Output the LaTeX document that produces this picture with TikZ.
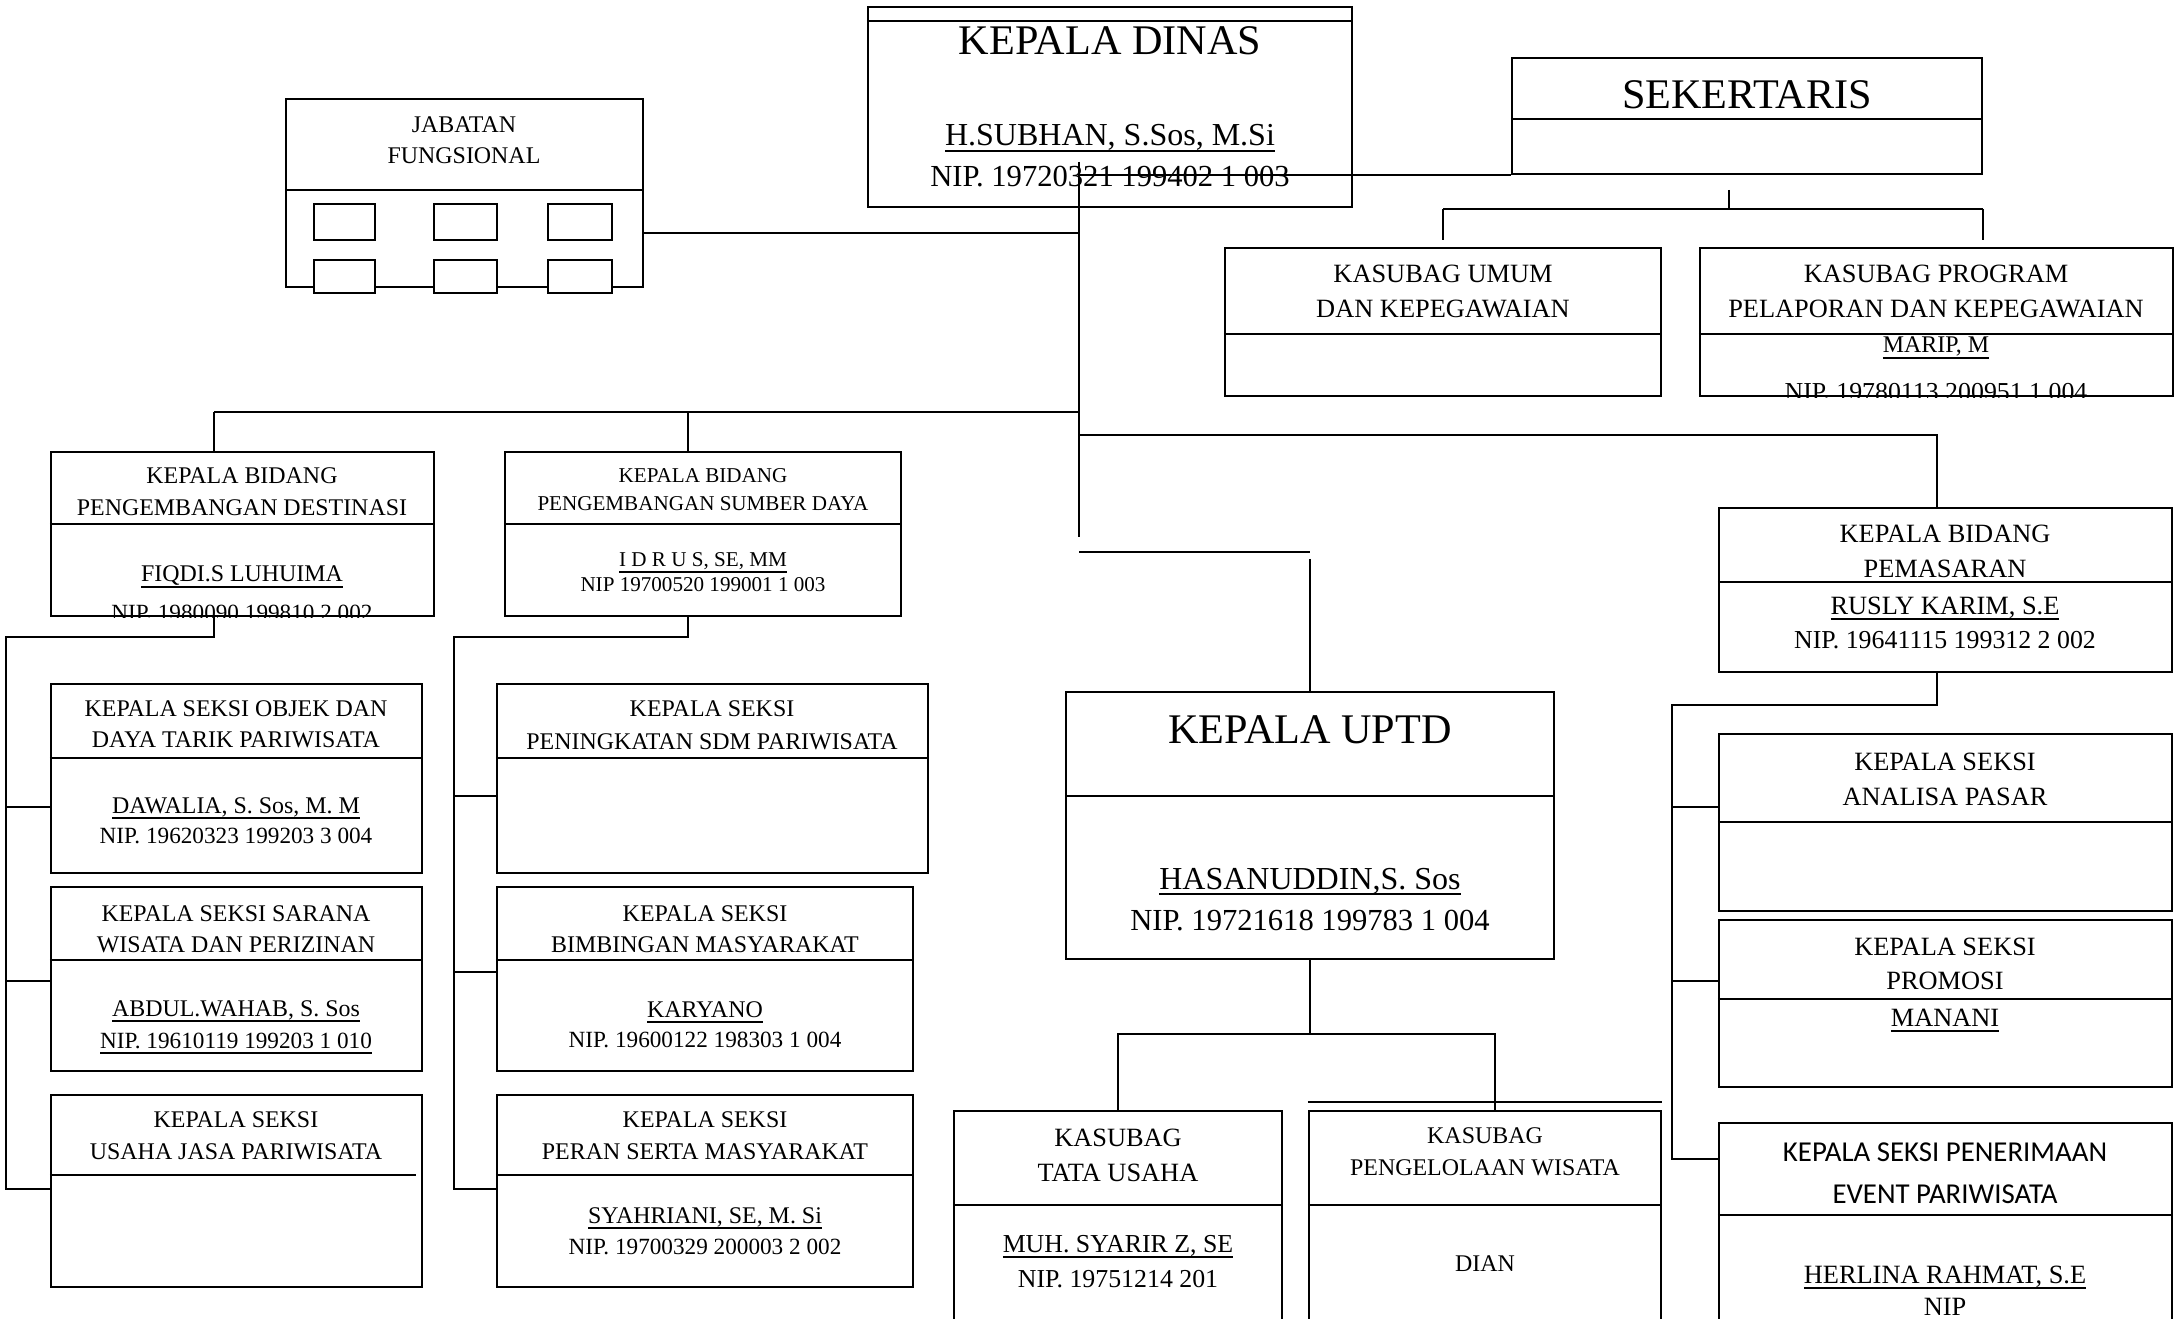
\documentclass[tikz,border=0pt]{standalone}
\usepackage{fontspec}
\setmainfont{Liberation Serif}
\newfontfamily\calibrifont{Carlito}
\usepackage{tikz}
\usetikzlibrary{positioning,fit,calc}
\newcommand{\garisbawah}[1]{\underline{\smash{#1}}}

\begin{document}
\begin{tikzpicture}[x=0.01cm,y=-0.01cm,
  kotak/.style={draw,line width=0.6pt,inner sep=0pt},
  garis/.style={line width=0.6pt},
  tipis/.style={line width=0.4pt},
  tx/.style={anchor=base,inner sep=0pt},
  besar/.style={tx,font=\fontsize{12}{14}\selectfont},
  nama/.style={tx,font=\fontsize{9.1}{11}\selectfont},
  nip/.style={tx,font=\fontsize{8.7}{10}\selectfont},
  sedang/.style={tx,font=\fontsize{7.5}{9}\selectfont},
  agak/.style={tx,font=\fontsize{7.35}{8.5}\selectfont},
  kecil/.style={tx,font=\fontsize{6.8}{8}\selectfont},
  nipkecil/.style={tx,font=\fontsize{6.6}{7.5}\selectfont},
  mini/.style={tx,font=\fontsize{6.0}{7}\selectfont},
  kal/.style={tx,font=\calibrifont\fontsize{8.2}{10}\selectfont}
]
\useasboundingbox (0,0) rectangle (2176,1319);
\clip (0,0) rectangle (2176,1319);

% kotak-kotak
\node[kotak,fit={(868,7)(1352,207)}] (dinas) {};
\node[kotak,fit={(286,99)(643,287)}] (jab) {};
\node[kotak,fit={(1512,58)(1982,174)}] (sek) {};
\node[kotak,fit={(1225,248)(1661,396)}] (umum) {};
\node[kotak,fit={(1700,248)(2173,396)}] (prog) {};
\node[kotak,fit={(51,452)(434,616)}] (dest) {};
\node[kotak,fit={(505,452)(901,616)}] (sdaya) {};
\node[kotak,fit={(1719,508)(2172,672)}] (pasar) {};
\node[kotak,fit={(1066,692)(1554,959)}] (uptd) {};
\node[kotak,fit={(51,684)(422,873)}] (objek) {};
\node[kotak,fit={(51,887)(422,1071)}] (sarana) {};
\node[kotak,fit={(51,1095)(422,1287)}] (usaha) {};
\node[kotak,fit={(497,684)(928,873)}] (sdm) {};
\node[kotak,fit={(497,887)(913,1071)}] (bimb) {};
\node[kotak,fit={(497,1095)(913,1287)}] (peran) {};
\node[kotak,fit={(1719,734)(2172,911)}] (analisa) {};
\node[kotak,fit={(1719,920)(2172,1087)}] (promosi) {};
\node[kotak,fit={(1719,1123)(2172,1400)}] (event) {};
\node[kotak,fit={(954,1111)(1282,1400)}] (tu) {};
\node[kotak,fit={(1309,1111)(1661,1400)}] (kelola) {};

% garis pembagi
\draw[garis] (dinas.west |- 0,21) -- (dinas.east |- 0,21);
\draw[garis] (jab.west |- 0,190) -- (jab.east |- 0,190);
\draw[garis] (sek.west |- 0,119) -- (sek.east |- 0,119);
\draw[garis] (umum.west |- 0,334) -- (umum.east |- 0,334);
\draw[garis] (prog.west |- 0,334) -- (prog.east |- 0,334);
\draw[garis] (dest.west |- 0,524) -- (dest.east |- 0,524);
\draw[garis] (sdaya.west |- 0,524) -- (sdaya.east |- 0,524);
\draw[garis] (pasar.west |- 0,582) -- (pasar.east |- 0,582);
\draw[garis] (uptd.west |- 0,796) -- (uptd.east |- 0,796);
\draw[garis] (objek.west |- 0,758) -- (objek.east |- 0,758);
\draw[garis] (sarana.west |- 0,960) -- (sarana.east |- 0,960);
\draw[garis] (usaha.west |- 0,1175) -- (416,1175);
\draw[garis] (sdm.west |- 0,758) -- (sdm.east |- 0,758);
\draw[garis] (bimb.west |- 0,960) -- (bimb.east |- 0,960);
\draw[garis] (peran.west |- 0,1175) -- (peran.east |- 0,1175);
\draw[garis] (analisa.west |- 0,822) -- (analisa.east |- 0,822);
\draw[garis] (promosi.west |- 0,999) -- (promosi.east |- 0,999);
\draw[garis] (event.west |- 0,1215) -- (event.east |- 0,1215);
\draw[garis] (tu.west |- 0,1205) -- (tu.east |- 0,1205);
\draw[garis] (kelola.west |- 0,1205) -- (kelola.east |- 0,1205);
\draw[garis] (kelola.west |- 0,1102) -- (kelola.east |- 0,1102);

% kotak kecil jabatan fungsional
\filldraw[garis,fill=white] (314,204) rectangle (375,240);
\filldraw[garis,fill=white] (434,204) rectangle (497,240);
\filldraw[garis,fill=white] (548,204) rectangle (612,240);
\filldraw[garis,fill=white] (314,260) rectangle (375,293);
\filldraw[garis,fill=white] (434,260) rectangle (497,293);
\filldraw[garis,fill=white] (548,260) rectangle (612,293);

% penghubung
\coordinate (atas) at (1079,162);
\coordinate (bawah) at (1079,537);
\draw[garis] (atas) -- (bawah);
\draw[garis] (jab.east |- 0,233) -- (atas |- 0,233);
\draw[garis] (atas |- sek.south) -- (sek.south west);
\coordinate (sekbawah) at (1729,190);
\draw[tipis] (sekbawah) -- (sekbawah |- 0,209);
\draw[garis] (umum.north |- 0,209) -- (sek.east |- 0,209);
\draw[tipis] (umum.north |- 0,209) -- (umum.north |- 0,240);
\draw[tipis] (sek.east |- 0,209) -- (sek.east |- 0,240);

\coordinate (kiri) at (214,412);
\coordinate (tengah) at (688,412);
\draw[garis] (kiri) -- (atas |- kiri);
\draw[tipis] (kiri) -- (kiri |- dest.north);
\draw[tipis] (tengah) -- (tengah |- sdaya.north);

\coordinate (spkiri) at (6,637);
\draw[garis] (dest.south -| kiri) -- (kiri |- spkiri) -- (spkiri) -- (spkiri |- 0,1189) -- (usaha.west |- 0,1189);
\draw[garis] (spkiri |- 0,807) -- (objek.west |- 0,807);
\draw[garis] (spkiri |- 0,981) -- (sarana.west |- 0,981);

\coordinate (sptengah) at (454,637);
\draw[garis] (sdaya.south -| tengah) -- (tengah |- sptengah) -- (sptengah) -- (sptengah |- 0,1189) -- (peran.west |- 0,1189);
\draw[garis] (sptengah |- 0,796) -- (sdm.west |- 0,796);
\draw[garis] (sptengah |- 0,972) -- (bimb.west |- 0,972);

\coordinate (kanan) at (1937,435);
\draw[garis] (atas |- kanan) -- (kanan) -- (kanan |- pasar.north);
\coordinate (spkanan) at (1672,705);
\draw[garis] (pasar.south -| kanan) -- (kanan |- spkanan) -- (spkanan) -- (spkanan |- 0,1159) -- (event.west |- 0,1159);
\draw[garis] (spkanan |- 0,807) -- (analisa.west |- 0,807);
\draw[garis] (spkanan |- 0,981) -- (promosi.west |- 0,981);

\draw[garis] (bawah |- 0,552) -- (uptd.north |- 0,552);
\draw[tipis] (uptd.north |- 0,559) -- (uptd.north);
\coordinate (cab) at (1310,1034);
\coordinate (cabk) at (1495,1034);
\draw[tipis] (uptd.south) -- (cab);
\draw[garis] (tu.north) -- (tu.north |- cab) -- (cabk) -- (cabk |- kelola.north);

% teks
\node[kecil] (tjab1) at (464,133) {JABATAN};
\node[kecil] (tjab2) at (464,164) {FUNGSIONAL};
\node[besar] (tdinas1) at (1110,55) {KEPALA DINAS};
\node[nama] (tdinas2) at (1110,146) {\garisbawah{H.SUBHAN, S.Sos, M.Si}};
\node[nip] (tdinas3) at (1110,187) {NIP. 19720321 199402 1 003};
\node[besar] (tsek) at (1747,109) {SEKERTARIS};
\node[sedang] (tumum1) at (1443,283) {KASUBAG UMUM};
\node[sedang] (tumum2) at (1443,318) {DAN KEPEGAWAIAN};
\node[sedang] (tprog1) at (1936,283) {KASUBAG PROGRAM};
\node[sedang] (tprog2) at (1936,318) {PELAPORAN DAN KEPEGAWAIAN};
\node[kecil] (tprog3) at (1936,353) {\garisbawah{MARIP, M}};
\begin{scope}
  \clip (prog.north west) rectangle (prog.south east);
  \node[agak] (tprog4) at (1936,401) {NIP. 19780113 200951 1 004};
\end{scope}

\node[kecil] (tdest1) at (242,484) {KEPALA BIDANG};
\node[kecil] (tdest2) at (242,516) {PENGEMBANGAN DESTINASI};
\node[kecil] (tdest3) at (242,582) {\garisbawah{FIQDI.S LUHUIMA}};
\begin{scope}
  \clip (dest.north west) rectangle (dest.south east);
  \node[nipkecil] (tdest4) at (242,621) {NIP. 1980090 199810 2 002};
\end{scope}
\node[mini] (tsdaya1) at (703,483) {KEPALA BIDANG};
\node[mini] (tsdaya2) at (703,511) {PENGEMBANGAN SUMBER DAYA};
\node[mini] (tsdaya3) at (703,567) {\garisbawah{I D R U S, SE, MM}};
\node[mini] (tsdaya4) at (703,592) {NIP 19700520 199001 1 003};

\node[kecil] (tobjek1) at (236,716) {KEPALA SEKSI OBJEK DAN};
\node[kecil] (tobjek2) at (236,748) {DAYA TARIK PARIWISATA};
\node[kecil] (tobjek3) at (236,813) {\garisbawah{DAWALIA, S. Sos, M. M}};
\node[nipkecil] (tobjek4) at (236,843) {NIP. 19620323 199203 3 004};
\node[kecil] (tsarana1) at (236,921) {KEPALA SEKSI SARANA};
\node[kecil] (tsarana2) at (236,952) {WISATA DAN PERIZINAN};
\node[kecil] (tsarana3) at (236,1016) {\garisbawah{ABDUL.WAHAB, S. Sos}};
\node[nipkecil] (tsarana4) at (236,1048) {\garisbawah{NIP. 19610119 199203 1 010}};
\node[kecil] (tusaha1) at (236,1127) {KEPALA SEKSI};
\node[kecil] (tusaha2) at (236,1159) {USAHA JASA PARIWISATA};

\node[kecil] (tsdm1) at (712,716) {KEPALA SEKSI};
\node[kecil] (tsdm2) at (712,749) {PENINGKATAN SDM PARIWISATA};
\node[kecil] (tbimb1) at (705,921) {KEPALA SEKSI};
\node[kecil] (tbimb2) at (705,952) {BIMBINGAN MASYARAKAT};
\node[kecil] (tbimb3) at (705,1017) {\garisbawah{KARYANO}};
\node[nipkecil] (tbimb4) at (705,1047) {NIP. 19600122 198303 1 004};
\node[kecil] (tperan1) at (705,1127) {KEPALA SEKSI};
\node[kecil] (tperan2) at (705,1159) {PERAN SERTA MASYARAKAT};
\node[kecil] (tperan3) at (705,1223) {\garisbawah{SYAHRIANI, SE, M. Si}};
\node[nipkecil] (tperan4) at (705,1254) {NIP. 19700329 200003 2 002};

\node[besar] (tuptd1) at (1310,743) {KEPALA UPTD};
\node[nama] (tuptd2) at (1310,889) {\garisbawah{HASANUDDIN,S. Sos}};
\node[nip] (tuptd3) at (1310,930) {NIP. 19721618 199783 1 004};

\node[sedang] (tpasar1) at (1945,543) {KEPALA BIDANG};
\node[sedang] (tpasar2) at (1945,578) {PEMASARAN};
\node[sedang] (tpasar3) at (1945,614) {\garisbawah{RUSLY KARIM, S.E}};
\node[agak] (tpasar4) at (1945,649) {NIP. 19641115 199312 2 002};
\node[sedang] (tanalisa1) at (1945,770) {KEPALA SEKSI};
\node[sedang] (tanalisa2) at (1945,805) {ANALISA PASAR};
\node[sedang] (tpromosi1) at (1945,955) {KEPALA SEKSI};
\node[sedang] (tpromosi2) at (1945,989) {PROMOSI};
\node[sedang] (tpromosi3) at (1945,1026) {\garisbawah{MANANI}};
\node[kal] (tevent1) at (1945,1161) {KEPALA SEKSI PENERIMAAN};
\node[kal] (tevent2) at (1945,1203) {EVENT PARIWISATA};
\node[sedang] (tevent3) at (1945,1283) {\garisbawah{HERLINA RAHMAT, S.E}};
\node[sedang] (tevent4) at (1945,1315) {NIP};

\node[sedang] (ttu1) at (1118,1146) {KASUBAG};
\node[sedang] (ttu2) at (1118,1181) {TATA USAHA};
\node[agak] (ttu3) at (1118,1252) {\garisbawah{MUH. SYARIR Z, SE}};
\node[agak] (ttu4) at (1118,1287) {NIP. 19751214 201};
\node[kecil] (tkelola1) at (1485,1143) {KASUBAG};
\node[kecil] (tkelola2) at (1485,1175) {PENGELOLAAN WISATA};
\node[kecil] (tkelola3) at (1485,1271) {DIAN};
\end{tikzpicture}
\end{document}
